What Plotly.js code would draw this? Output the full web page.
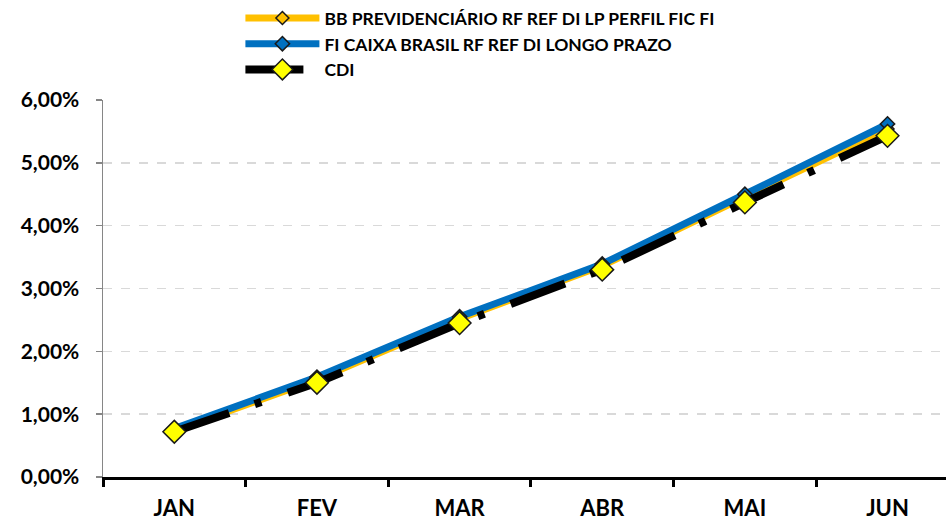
<!DOCTYPE html>
<html>
<head>
<meta charset="utf-8">
<script src="https://cdn.plot.ly/plotly-3.0.1.min.js"></script>
<style>html,body{margin:0;padding:0;background:#fff;}#chart{width:946px;height:521px;}</style>
</head>
<body>
<div id="chart"></div>
<script>
const months = ["JAN", "FEV", "MAR", "ABR", "MAI", "JUN"];
const bbName = "BB PREVIDENCIÁRIO RF REF DI LP PERFIL FIC FI";
const bbValues = [0.74, 1.55, 2.52, 3.36, 4.46, 5.54];
const caixaName = "FI CAIXA BRASIL RF REF DI LONGO PRAZO";
const caixaValues = [0.77, 1.59, 2.55, 3.39, 4.50, 5.62];
const cdiName = "CDI";
const cdiValues = [0.72, 1.50, 2.45, 3.30, 4.37, 5.43];
const yTickVals = [0, 1, 2, 3, 4, 5, 6];
const yTickText = ["0,00%", "1,00%", "2,00%", "3,00%", "4,00%", "5,00%", "6,00%"];

const traces = [
  {x: months, y: bbValues, name: bbName, type: "scatter", mode: "lines+markers",
   line: {color: "#FFC000", width: 7},
   marker: {symbol: "diamond", size: 10, color: "#FFC000", line: {color: "#1a1a1a", width: 1.5}}},
  {x: months, y: caixaValues, name: caixaName, type: "scatter", mode: "lines+markers",
   line: {color: "#0070C0", width: 7},
   marker: {symbol: "diamond", size: 11, color: "#0070C0", line: {color: "#1a1a1a", width: 1.5}}},
  {x: months, y: cdiValues, name: cdiName, type: "scatter", mode: "lines+markers",
   line: {color: "#000000", width: 8, dash: "58px,27px,7px,28px"},
   marker: {symbol: "diamond", size: 17.5, color: "#FFFF00", line: {color: "#1a1a1a", width: 1.5}}}
];

const layout = {
  width: 946, height: 521,
  margin: {l: 103, r: 0, t: 100, b: 44, pad: 0, autoexpand: false},
  paper_bgcolor: "#fff", plot_bgcolor: "#fff",
  font: {family: "Lato, 'Open Sans', sans-serif", color: "#000", size: 16},
  showlegend: true,
  legend: {x: 0.163, y: 1.265, xanchor: "left", yanchor: "top",
           itemwidth: 74, tracegroupgap: 0, bgcolor: "rgba(0,0,0,0)",
           font: {family: "Lato, 'Open Sans', sans-serif", size: 17.5, color: "#000", weight: "bold"}},
  xaxis: {type: "category", range: [-0.5, 5.41], tickson: "boundaries",
          showline: true, linecolor: "#000", linewidth: 3,
          ticks: "outside", ticklen: 7, tickwidth: 3, tickcolor: "#000",
          ticklabelstandoff: 10, showgrid: false, zeroline: false, fixedrange: true,
          tickangle: 0, automargin: false,
          tickfont: {family: "Lato, 'Open Sans', sans-serif", size: 22, color: "#000", weight: "bold"}},
  yaxis: {range: [0, 6], tickmode: "array", tickvals: yTickVals, ticktext: yTickText,
          showline: true, linecolor: "#868686", linewidth: 1.5,
          ticks: "outside", ticklen: 6, tickcolor: "#868686", tickwidth: 1.5,
          ticklabelstandoff: 12, automargin: false,
          showgrid: true, gridcolor: "#D9D9D9", gridwidth: 1.5, griddash: "dash",
          zeroline: false, fixedrange: true,
          tickfont: {family: "Lato, 'Open Sans', sans-serif", size: 21, color: "#000", weight: "bold"}}
};

Plotly.newPlot("chart", traces, layout, {displayModeBar: false, staticPlot: true});
</script>
</body>
</html>
